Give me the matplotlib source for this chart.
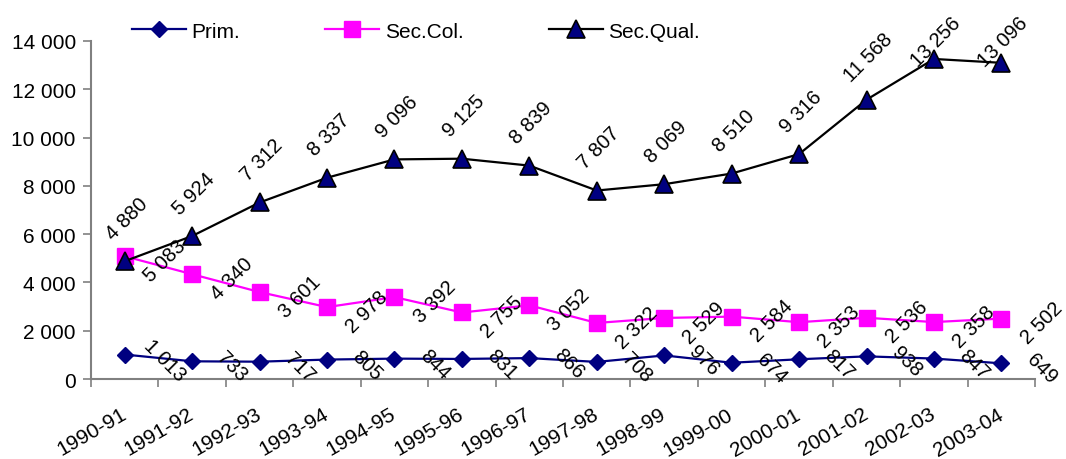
import matplotlib.pyplot as plt
from matplotlib.ticker import FuncFormatter
from matplotlib.transforms import ScaledTranslation

plt.rcParams['font.family'] = ['Liberation Sans', 'DejaVu Sans']

years = ['1990-91', '1991-92', '1992-93', '1993-94', '1994-95', '1995-96', '1996-97',
         '1997-98', '1998-99', '1999-00', '2000-01', '2001-02', '2002-03', '2003-04']
prim = [1013, 733, 717, 805, 844, 831, 866, 708, 976, 674, 817, 938, 847, 649]
sec_col = [5083, 4340, 3601, 2978, 3392, 2755, 3052, 2322, 2529, 2584, 2353, 2536, 2358, 2502]
sec_qual = [4880, 5924, 7312, 8337, 9096, 9125, 8839, 7807, 8069, 8510, 9316, 11568, 13256, 13096]


def fmt(v):
    return f"{int(v):,}".replace(",", " ")


fig = plt.figure(figsize=(10.66, 4.6), dpi=100)
ax = fig.add_axes([0.0854, 0.1739, 0.8856, 0.7348])

x = range(len(years))
ax.plot(x, prim, color='#000080', lw=1.6, marker='D', ms=8, mfc='#000080', mec='#000080', label='Prim.')
ax.plot(x, sec_col, color='#FF00FF', lw=1.6, marker='s', ms=11, mfc='#FF00FF', mec='#FF00FF', label='Sec.Col.')
ax.plot(x, sec_qual, color='black', lw=1.6, marker='^', ms=13, mfc='#000080', mec='black', mew=1.2, label='Sec.Qual.')

ax.set_xlim(-0.5, len(years) - 0.5)
ax.set_ylim(0, 14000)

# data labels, placed roughly as in the original
for i in x:
    ax.annotate(fmt(prim[i]), (i, prim[i]), xytext=(40, -5), textcoords='offset pixels',
                rotation=-45, ha='center', va='center', fontsize=14.5)
    ax.annotate(fmt(sec_col[i]), (i, sec_col[i]), xytext=(40, -4), textcoords='offset pixels',
                rotation=45, ha='center', va='center', fontsize=14.5)

# Sec.Qual labels sit above the points but stay inside the plot area (like Excel)
top = ax.transAxes.transform((0, 1))[1]
for i in x:
    px, py = ax.transData.transform((i, sec_qual[i]))
    ax.annotate(fmt(sec_qual[i]), (i, sec_qual[i]), xytext=(px + 2, min(py + 43, top)),
                textcoords='figure pixels', rotation=45, ha='center', va='center', fontsize=14.5)

ax.set_yticks(range(0, 14001, 2000))
ax.yaxis.set_major_formatter(FuncFormatter(lambda v, p: fmt(v)))

ax.set_xticks(list(x))
ax.set_xticklabels(years, rotation=30, ha='right', va='center', rotation_mode='anchor')
shift = ScaledTranslation(-0.08, 0, fig.dpi_scale_trans)
for lab in ax.get_xticklabels():
    lab.set_transform(lab.get_transform() + shift)
ax.set_xticks([i - 0.5 for i in range(len(years) + 1)], minor=True)
ax.tick_params(axis='x', which='major', length=0, pad=24, labelsize=15)
ax.tick_params(axis='x', which='minor', length=6, width=1.2, color='#808080', direction='out')
ax.tick_params(axis='y', length=6, width=1.2, color='#808080', labelsize=15, pad=5)

for s in ['top', 'right']:
    ax.spines[s].set_visible(False)
for s in ['left', 'bottom']:
    ax.spines[s].set_color('#808080')
    ax.spines[s].set_linewidth(1.5)

fig.legend(loc='center', bbox_to_anchor=(0.39, 0.93), ncol=3, frameon=False,
           fontsize=15, columnspacing=4.1, handlelength=2.6, handletextpad=0.25)

fig.savefig('out.png', dpi=100)
